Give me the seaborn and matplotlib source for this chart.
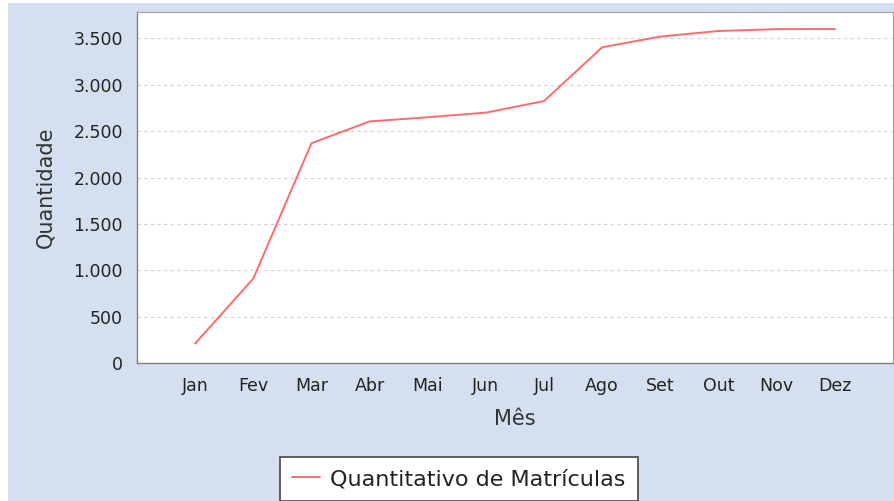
import matplotlib
matplotlib.use("Agg")
import matplotlib.pyplot as plt
import matplotlib.ticker as mticker
from matplotlib.patches import Rectangle
import seaborn as sns
import pandas as pd

meses = ["Jan", "Fev", "Mar", "Abr", "Mai", "Jun", "Jul", "Ago", "Set", "Out", "Nov", "Dez"]
matriculas = [210, 910, 2370, 2605, 2650, 2700, 2825, 3405, 3520, 3580, 3600, 3602]

BG_BLUE = "#d4e0ef"
LINE_RED = "#ff6a6a"

sns.set_style("white")
plt.rcParams["font.family"] = ["DejaVu Sans"]

df = pd.DataFrame({"Mês": meses, "Quantidade": matriculas})

fig = plt.figure(figsize=(8.95, 5.01), dpi=100, facecolor="white")
# chart background (JFreeChart-like light blue panel)
fig.patches.append(Rectangle((8 / 895, 0), 1, 498 / 501, transform=fig.transFigure,
                             facecolor=BG_BLUE, edgecolor="none", zorder=-10))

ax = fig.add_axes([137 / 895, 138 / 501, 756 / 895, 351 / 501])
ax.set_facecolor("white")

sns.lineplot(data=df, x="Mês", y="Quantidade", ax=ax, color=LINE_RED,
             linewidth=1.4, sort=False, label="Quantitativo de Matrículas", legend=False)

ax.set_xlim(-1, 12)
ax.set_ylim(0, 3785)
ax.yaxis.set_major_locator(mticker.MultipleLocator(500))
ax.yaxis.set_major_formatter(mticker.FuncFormatter(lambda v, p: f"{int(v):,}".replace(",", ".")))

ax.grid(axis="y", color="#d2d2d2", linestyle=(0, (3, 3)), linewidth=0.8)
ax.grid(axis="x", visible=False)

for side in ["top", "right"]:
    ax.spines[side].set_color("#a0a0a0")
    ax.spines[side].set_linewidth(0.8)
for side in ["left", "bottom"]:
    ax.spines[side].set_color("#808080")
    ax.spines[side].set_linewidth(1.0)

ax.tick_params(axis="y", length=3, width=1, color="#808080", pad=7, labelsize=12.5, labelcolor="#222222")
ax.tick_params(axis="x", length=0, pad=10, labelsize=12.5, labelcolor="#222222")

ax.set_ylabel("Quantidade", fontsize=15, color="#333333")
ax.set_xlabel("Mês", fontsize=15, color="#333333")
ax.yaxis.set_label_coords(-0.108, 0.5)
ax.xaxis.set_label_coords(0.5, -0.13)

handles, labels = ax.get_legend_handles_labels()
leg = fig.legend(handles, labels, loc="upper center", bbox_to_anchor=(459 / 895, 44 / 501),
                 fontsize=16, frameon=True, fancybox=False, edgecolor="#444444", framealpha=1,
                 borderaxespad=0, handlelength=1.25, handletextpad=0.45, borderpad=0.55,
                 labelcolor="#222222")
leg.get_frame().set_linewidth(1.2)
leg.get_frame().set_facecolor("white")

fig.savefig("out.png", dpi=100, facecolor=fig.get_facecolor())
